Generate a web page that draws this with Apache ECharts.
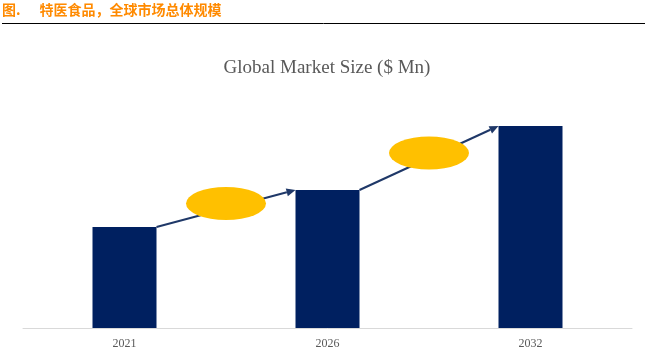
<!DOCTYPE html>
<html>
<head>
<meta charset="utf-8">
<script src="https://cdn.jsdelivr.net/npm/echarts@6/dist/echarts.min.js"></script>
<style>
html,body{margin:0;padding:0;background:#fff;}
#chart{width:646px;height:362px;}
</style>
</head>
<body>
<div id="chart"></div>
<script>
const years = ['2021', '2026', '2032'];
const marketSize = [101, 138, 202];
const headerText = '图.      特医食品，全球市场总体规模';
const chartTitle = 'Global Market Size ($ Mn)';

const chart = echarts.init(document.getElementById('chart'));
const barHalf = 32;

const connectors = marketSize.slice(0, -1).map((v, i) => [i, v, marketSize[i + 1]]);

chart.setOption({
  animation: false,
  backgroundColor: '#fff',
  graphic: [
    { type: 'text', left: 2, top: 3, style: { text: headerText, fontFamily: 'Noto Sans CJK SC', fontWeight: 'bold', fontSize: 14, fill: '#FF8A00' } },
    { type: 'line', shape: { x1: 2, y1: 23.5, x2: 645, y2: 23.5 }, style: { stroke: '#000', lineWidth: 1 } },
    { type: 'text', x: 327, y: 68, style: { text: chartTitle, fontFamily: '"Liberation Serif", "Times New Roman", serif', fontSize: 19, fill: '#595959', align: 'center', verticalAlign: 'middle' } }
  ],
  grid: { left: 23, right: 14, top: 78, bottom: 34 },
  xAxis: {
    type: 'category',
    data: years,
    axisLine: { lineStyle: { color: '#d9d9d9', width: 1 } },
    axisTick: { show: false },
    axisLabel: { fontFamily: '"Liberation Serif", serif', fontSize: 12, color: '#595959', margin: 10 }
  },
  yAxis: {
    type: 'value', min: 0, max: 250, show: false, splitLine: { show: false }
  },
  series: [
    {
      type: 'bar',
      data: marketSize,
      barWidth: 64,
      itemStyle: { color: '#002060' },
      z: 2
    },
    {
      type: 'custom',
      data: connectors,
      z: 3,
      renderItem: function (params, api) {
        const i = api.value(0);
        const p1 = api.coord([i, api.value(1)]);
        const p2 = api.coord([i + 1, api.value(2)]);
        const x1 = p1[0] + barHalf, y1 = p1[1];
        const x2 = p2[0] - barHalf, y2 = p2[1];
        const ang = Math.atan2(y2 - y1, x2 - x1);
        const L = 9, W = 4;
        const bx = x2 - L * Math.cos(ang), by = y2 - L * Math.sin(ang);
        const px = -Math.sin(ang), py = Math.cos(ang);
        const mx = (x1 + x2) / 2, my = (y1 + y2) / 2 - 5;
        return {
          type: 'group',
          children: [
            { type: 'line', shape: { x1: x1, y1: y1, x2: bx, y2: by }, style: { stroke: '#1F3868', lineWidth: 2 } },
            { type: 'polygon', shape: { points: [[x2, y2], [bx + px * W, by + py * W], [bx - px * W, by - py * W]] }, style: { fill: '#1F3868' } },
            { type: 'circle', x: mx, y: my, scaleX: 40 / 16.5, shape: { cx: 0, cy: 0, r: 16.5 }, style: { fill: '#FFC000' } }
          ]
        };
      }
    }
  ]
});
</script>
</body>
</html>
